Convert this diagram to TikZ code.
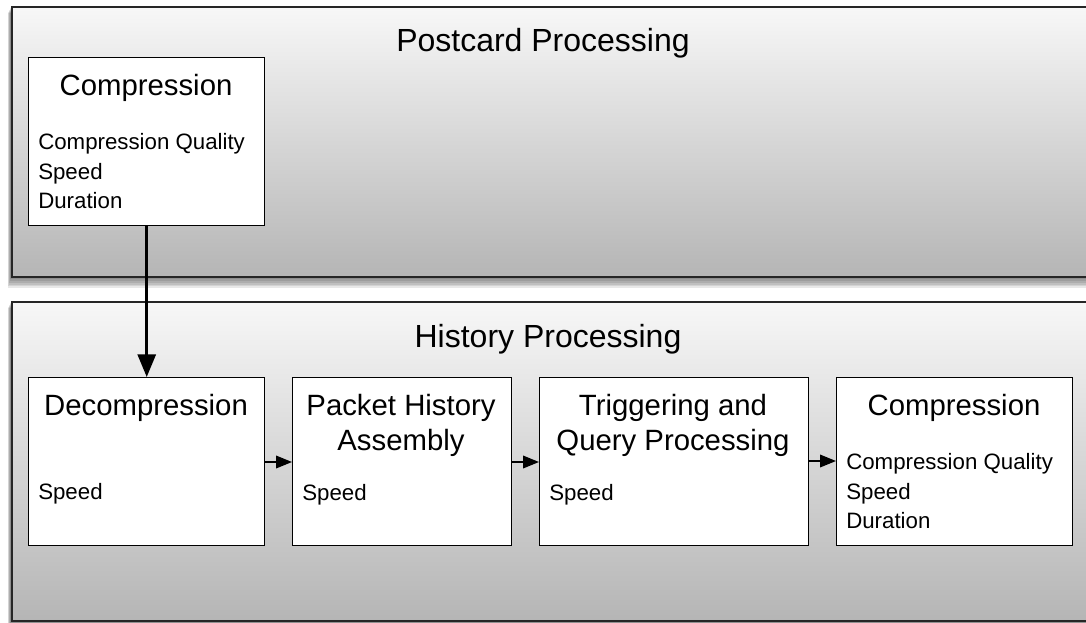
\documentclass[tikz,border=0pt]{standalone}
\usepackage{fontspec}
\setmainfont{Liberation Sans}
\usetikzlibrary{arrows.meta}
\begin{document}
\begin{tikzpicture}[x=0.75pt,y=-0.75pt,
  panel/.style={draw=black!85, line width=1.5pt, top color=black!3, bottom color=black!29, anchor=north west, inner sep=0pt},
  stage/.style={draw=black, line width=1.1pt, fill=white, anchor=north west, inner sep=0pt, minimum height=126pt},
  paneltitle/.style={font=\fontsize{24}{29}\selectfont, inner sep=0pt},
  stagetitle/.style={font=\fontsize{22}{26.3}\selectfont, align=center, inner sep=0pt},
  attr/.style={font=\fontsize{16.7}{22.2}\selectfont, align=left, anchor=north west, inner sep=0pt},
  bigflow/.style={line width=2.2pt, -{Triangle[length=17pt,width=13.5pt]}},
  flow/.style={line width=1.1pt, -{Triangle[length=12pt,width=9.5pt]}},
  shadowpiece/.style={fill=black, opacity=0.09, draw=none}]
\useasboundingbox (0,0) rectangle (1086,622);
\fill[white] (0,0) rectangle (1086,622);
\clip (0,0) rectangle (1086,622);
% shadows
\foreach \k in {1,...,7} {
  \fill[shadowpiece] (11-0.5*\k,6+\k) rectangle (1100,276+1.7*\k);
  \fill[shadowpiece] (11-0.5*\k,301+\k) rectangle (1100,620+1.7*\k);
}
% panels
\node[panel, minimum width=813pt, minimum height=202.5pt] (postcard) at (11,6) {};
\node[panel, minimum width=813pt, minimum height=239.25pt] (history) at (11,301) {};
\node[paneltitle] (postcardtitle) at (543,43) {Postcard Processing};
\node[paneltitle] (historytitle) at (548,339) {History Processing};
% stages
\node[stage, minimum width=177pt] (comp1) at (28,57) {};
\node[stage, minimum width=177pt] (decomp) at (28,377) {};
\node[stage, minimum width=164.25pt] (packet) at (292,377) {};
\node[stage, minimum width=201.75pt] (trig) at (539,377) {};
\node[stage, minimum width=177pt] (comp2) at (836,377) {};
% stage texts
\node[stagetitle] (comp1t) at (146,88) {Compression};
\node[attr] (comp1a) at (38,133) {Compression Quality\\Speed\\Duration};
\node[stagetitle] (decompt) at (146,408) {Decompression};
\node[attr] (decompa) at (38,483) {Speed};
\node[stagetitle] (packett) at (401,425) {Packet History\\Assembly};
\node[attr] (packeta) at (302,484) {Speed};
\node[stagetitle] (trigt) at (673,425) {Triggering and\\Query Processing};
\node[attr] (triga) at (549,484) {Speed};
\node[stagetitle] (comp2t) at (954,408) {Compression};
\node[attr] (comp2a) at (846,453) {Compression Quality\\Speed\\Duration};
% connectors
\draw[bigflow] (comp1.south) -- (decomp.north);
\draw[flow] (decomp.east |- 0,462) -- (packet.west |- 0,462);
\draw[flow] (packet.east |- 0,462) -- (trig.west |- 0,462);
\draw[flow] (trig.east |- 0,461) -- (comp2.west |- 0,461);
\end{tikzpicture}
\end{document}
